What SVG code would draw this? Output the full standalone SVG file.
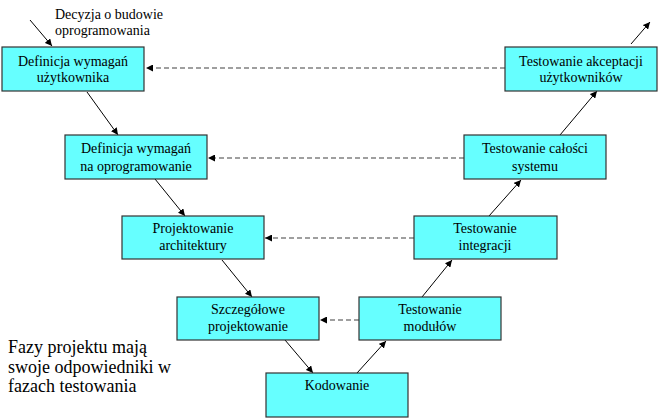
<svg xmlns="http://www.w3.org/2000/svg" width="660" height="419" viewBox="0 0 660 419">
<defs>
<marker id="ah" viewBox="0 0 10 10" refX="10" refY="5" markerWidth="7" markerHeight="7" markerUnits="userSpaceOnUse" orient="auto">
<path d="M0,0 L10,5 L0,10 z" fill="#000"/>
</marker>
<style>
.box{fill:#66ffff;stroke:#333;stroke-width:1.2}
.t{font-size:14px;fill:#000;text-anchor:middle}
.s{stroke:#000;stroke-width:1;fill:none;marker-end:url(#ah)}
.d{stroke:#808080;stroke-width:1.3;stroke-dasharray:5,3;fill:none;marker-end:url(#ah)}
.lbl{fill:#000}
</style>
</defs>
<rect width="660" height="419" fill="#fff"/>
<g id="connectors">
<line class="s" x1="30" y1="20" x2="52" y2="46"/>
<line class="s" x1="87" y1="92" x2="118" y2="135"/>
<line class="s" x1="155" y1="179" x2="185" y2="216"/>
<line class="s" x1="222" y1="260" x2="252" y2="297"/>
<line class="s" x1="285" y1="340" x2="313" y2="373"/>
<line class="s" x1="357" y1="373" x2="386" y2="341"/>
<line class="s" x1="422" y1="297" x2="452" y2="260"/>
<line class="s" x1="489" y1="216" x2="521" y2="180"/>
<line class="s" x1="560" y1="135" x2="597" y2="91"/>
<line class="s" x1="631" y1="44" x2="650" y2="22"/>
<line class="d" x1="505" y1="68" x2="146" y2="68"/>
<line class="d" x1="464" y1="158" x2="208" y2="158"/>
<line class="d" x1="414" y1="238" x2="265" y2="238"/>
<line class="d" x1="359" y1="320" x2="320" y2="320"/>
</g>
<g font-family="Liberation Serif, Times New Roman, serif">
<g id="n1"><rect class="box" x="2" y="47" width="142" height="44"/><text class="t" x="73" y="66">Definicja wymagań</text><text class="t" x="73" y="82">użytkownika</text></g>
<g id="n2"><rect class="box" x="65" y="135" width="142" height="44"/><text class="t" x="136" y="153">Definicja wymagań</text><text class="t" x="136" y="171">na oprogramowanie</text></g>
<g id="n3"><rect class="box" x="122" y="216" width="142" height="43"/><text class="t" x="193" y="233">Projektowanie</text><text class="t" x="193" y="250">architektury</text></g>
<g id="n4"><rect class="box" x="177" y="297" width="142" height="43"/><text class="t" x="248" y="314">Szczegółowe</text><text class="t" x="248" y="331">projektowanie</text></g>
<g id="n5"><rect class="box" x="266" y="373" width="142" height="44"/><text class="t" x="337" y="390">Kodowanie</text></g>
<g id="n6"><rect class="box" x="359" y="297" width="142" height="43"/><text class="t" x="430" y="314">Testowanie</text><text class="t" x="430" y="331">modułów</text></g>
<g id="n7"><rect class="box" x="414" y="216" width="143" height="43"/><text class="t" x="485" y="233">Testowanie</text><text class="t" x="485" y="250">integracji</text></g>
<g id="n8"><rect class="box" x="464" y="135" width="142" height="44"/><text class="t" x="535" y="153">Testowanie całości</text><text class="t" x="535" y="171">systemu</text></g>
<g id="n9"><rect class="box" x="505" y="47" width="152" height="44"/><text class="t" x="581" y="66">Testowanie akceptacji</text><text class="t" x="581" y="82">użytkowników</text></g>
<g id="start-label"><text class="lbl" font-size="14" x="55" y="19">Decyzja o budowie</text><text class="lbl" font-size="14" x="55" y="35">oprogramowania</text></g>
<g id="note"><text class="lbl" font-size="18" x="8" y="353">Fazy projektu mają</text><text class="lbl" font-size="18" x="8" y="373">swoje odpowiedniki w</text><text class="lbl" font-size="18" x="8" y="392">fazach testowania</text></g>
</g>
</svg>
